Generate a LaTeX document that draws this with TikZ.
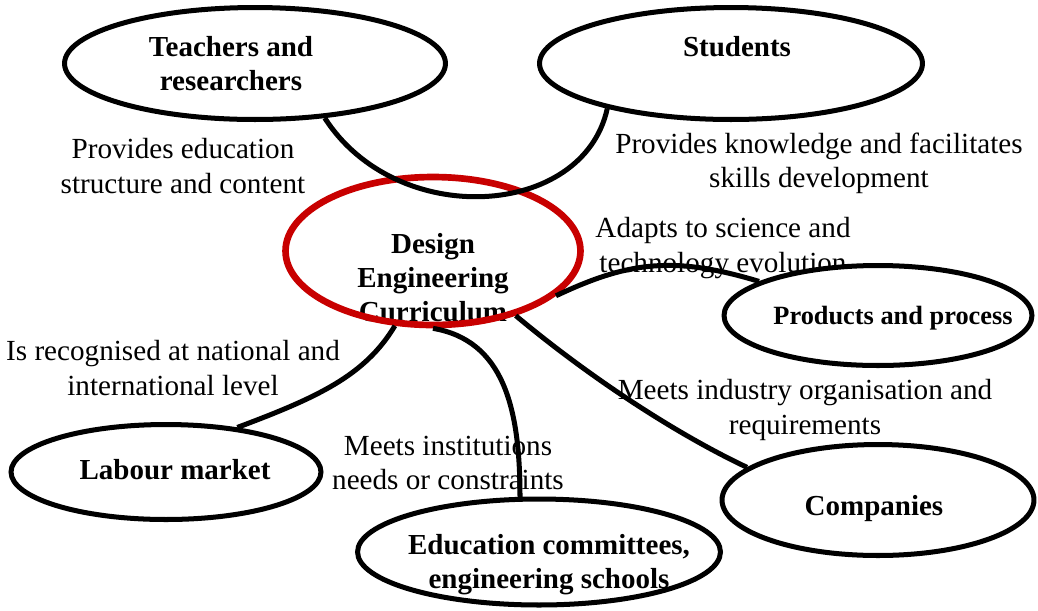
\documentclass[tikz,border=0pt]{standalone}
\usepackage{fontspec}
\setmainfont{Liberation Serif}
\usetikzlibrary{shapes.geometric}
\definecolor{curred}{RGB}{200,0,0}
\tikzset{
    actor/.style={ellipse, draw, line width=2.85pt, fill=white, inner sep=0pt},
    core/.style={ellipse, draw=curred, line width=3.8pt, inner sep=0pt},
    actor text/.style={font=\fontsize{16.5}{19.4}\selectfont\bfseries, align=center, inner sep=0pt},
    note/.style={font=\fontsize{16.6}{19.4}\selectfont, align=center, inner sep=0pt},
    link/.style={line width=2.85pt},
}

\begin{document}
\begin{tikzpicture}[x=0.02cm, y=-0.02cm]
\useasboundingbox (0,0) rectangle (1038,610);

% what each link says
\node[note] (n1) at (183,166) {Provides education\\structure and content};
\node[note] (n2) at (819,163) {Provides knowledge and facilitates\\skills development};
\node[note] (n3) at (723,248) {Adapts to science and\\technology evolution};
\node[note] (n4) at (173,368) {Is recognised at national and\\international level};
\node[note] (n5) at (448,463) {Meets institutions\\needs or constraints};
\node[note] (n6) at (805,410) {Meets industry organisation and\\requirements};

% the curriculum in the middle
\node[actor text] (curtext) at (433,278) {Design\\Engineering\\Curriculum};
\node[core, minimum width=5.9cm, minimum height=2.96cm] (cur) at (433,251) {};

% the actors round it
\node[actor, minimum width=7.62cm, minimum height=2.24cm] (tea) at (255,63.5) {};
\node[actor text] at (231,64) {Teachers and\\researchers};
\node[actor, minimum width=7.66cm, minimum height=2.24cm] (stu) at (731,63.5) {};
\node[actor text] at (737,47) {Students};
\node[actor, minimum width=6.16cm, minimum height=2.0cm] (prod) at (878,315.5) {};
\node[actor text, font=\fontsize{15}{18}\selectfont\bfseries] at (893,318) {Products and process};
\node[actor, minimum width=6.24cm, minimum height=2.22cm] (comp) at (878,500) {};
\node[actor text] at (874,509) {Companies};
\node[actor, minimum width=6.2cm, minimum height=1.9cm] (lab) at (166,472) {};
\node[actor text] at (175,470) {Labour market};
\node[actor, minimum width=7.26cm, minimum height=2.12cm] (edu) at (539,552) {};
\node[actor text] at (549,565) {Education committees,\\engineering schools};

% links
\draw[link] (tea.-38) .. controls +(72,112) and +(-24,110) .. (stu.-160);
\draw[link] (cur.-20) .. controls +(72,-34) and +(-86,-26) .. (prod.164);
\draw[link] (cur.-117) .. controls +(-30,50) and +(80,-30) .. (lab.32);
\draw[link] (cur.south) .. controls +(70,12) and +(0,-90) .. (edu.109);
\draw[link] (cur.-38) .. controls +(73,61) and +(-72,-34) .. (comp.166);
\end{tikzpicture}
\end{document}
